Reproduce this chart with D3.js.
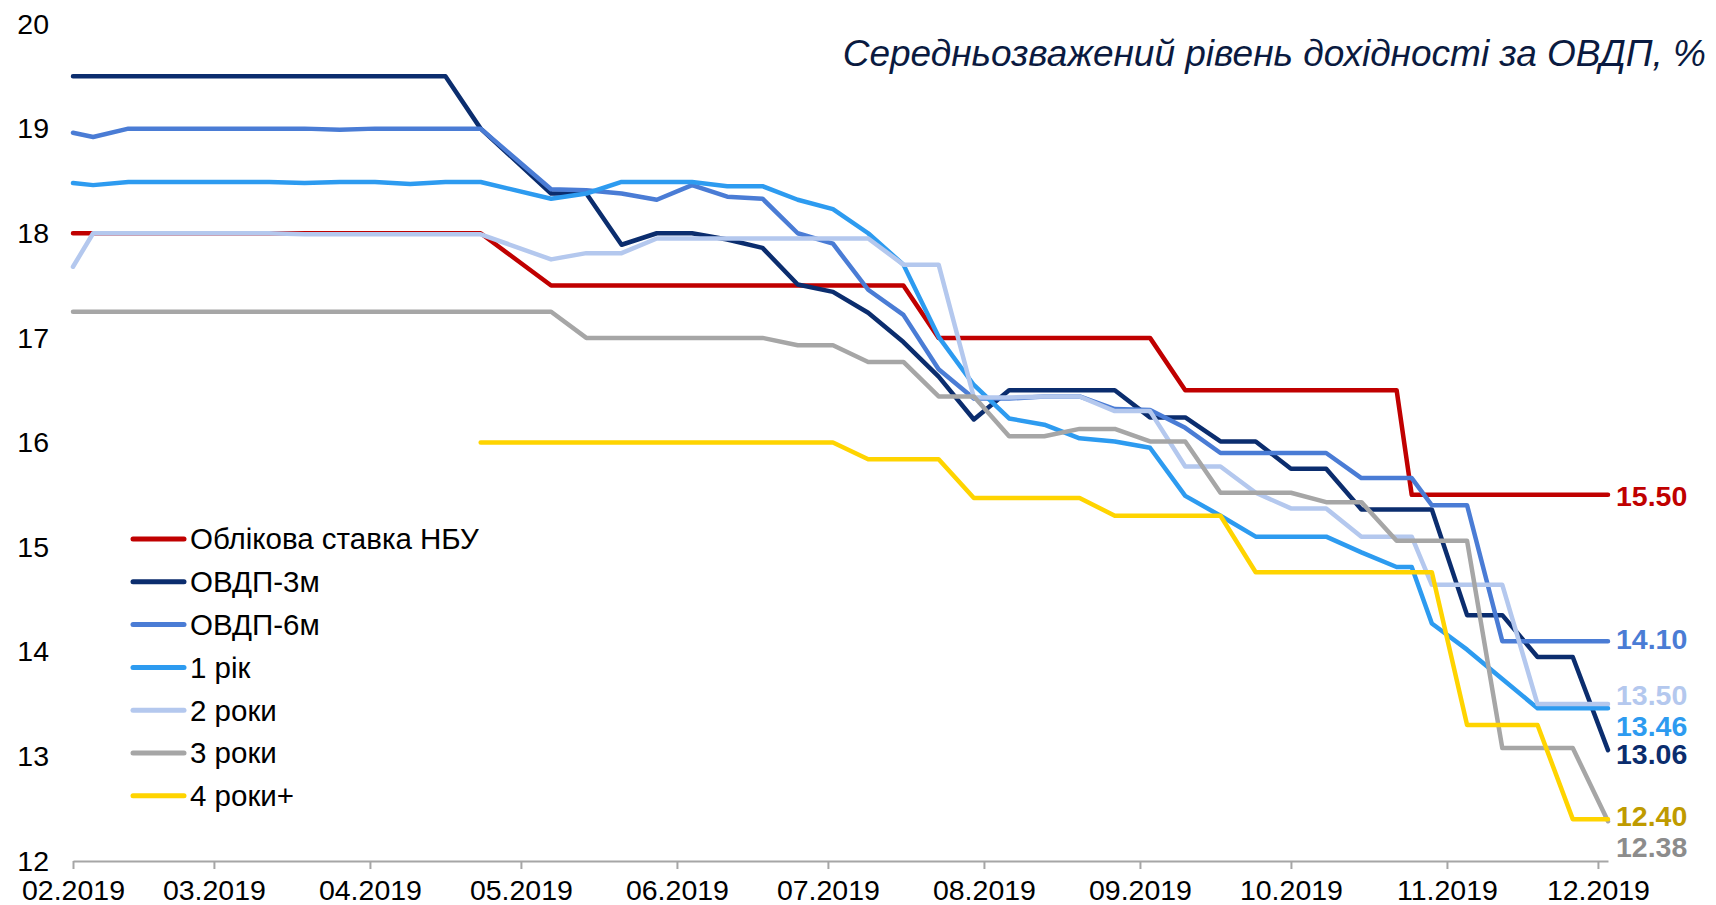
<!doctype html>
<html lang="uk">
  <head>
    <meta charset="utf-8">
    <title>Середньозважений рівень дохідності за ОВДП</title>
    <script src="https://d3js.org/d3.v7.min.js"></script>
    <style>
      body { margin: 0; background: #fff; }
      svg { display: block; font-family: "Liberation Sans", Arial, sans-serif; }
      .axis text { font-size: 28.5px; fill: #000; }
      .legend text { font-size: 29.5px; fill: #000; }
      .endlabel { font-family: "Liberation Sans", Arial, sans-serif; font-size: 28.5px; font-weight: bold; }
    </style>
  </head>
  <body>
    <svg width="1716" height="905"></svg>
<script>
// auction dates (weekly, plus the NBU decision on 25.10)
var dates = ["2019-02-01","2019-02-05","2019-02-12","2019-02-19","2019-02-26","2019-03-05","2019-03-12","2019-03-19","2019-03-26",
  "2019-04-02","2019-04-09","2019-04-16","2019-04-23","2019-05-07","2019-05-14","2019-05-21","2019-05-28","2019-06-04","2019-06-11",
  "2019-06-18","2019-06-25","2019-07-02","2019-07-09","2019-07-16","2019-07-23","2019-07-30","2019-08-06","2019-08-13","2019-08-20",
  "2019-08-27","2019-09-03","2019-09-10","2019-09-17","2019-09-24","2019-10-01","2019-10-08","2019-10-15","2019-10-22","2019-10-25",
  "2019-10-29","2019-11-05","2019-11-12","2019-11-19","2019-11-26","2019-12-03"];

var keyRate = [18,18,18,18,18,18,18,18,18,18,18,18,18,
  17.5,17.5,17.5,17.5,17.5,17.5,17.5,17.5,17.5,17.5,17.5,
  17,17,17,17,17,17,17,
  16.5,16.5,16.5,16.5,16.5,16.5,16.5,
  15.5,15.5,15.5,15.5,15.5,15.5,15.5];
var ovdp3m = [19.5,19.5,19.5,19.5,19.5,19.5,19.5,19.5,19.5,19.5,19.5,19.5,19.0,
  18.38,18.38,17.89,18.0,18.0,17.94,17.86,17.51,17.44,17.24,16.96,16.63,16.22,
  16.5,16.5,16.5,16.5,16.24,16.24,16.01,16.01,15.75,15.75,15.36,15.36,15.36,15.36,
  14.35,14.35,13.95,13.95,13.06];
var ovdp6m = [18.96,18.92,19.0,19.0,19.0,19.0,19.0,19.0,18.99,19.0,19.0,19.0,19.0,
  18.42,18.41,18.38,18.32,18.46,18.35,18.33,18.0,17.9,17.46,17.22,16.7,16.42,
  16.42,16.44,16.44,16.32,16.31,16.14,15.9,15.9,15.9,15.9,15.66,15.66,15.66,15.4,
  15.4,14.1,14.1,14.1,14.1];
var ovdp1y = [18.48,18.46,18.49,18.49,18.49,18.49,18.49,18.48,18.49,18.49,18.47,18.49,18.49,
  18.33,18.38,18.49,18.49,18.49,18.45,18.45,18.32,18.23,18.0,17.7,17.01,16.55,
  16.23,16.17,16.04,16.01,15.95,15.49,15.3,15.1,15.1,15.1,14.95,14.81,14.81,14.27,
  14.02,13.74,13.46,13.46,13.46];
var ovdp2y = [17.68,18.0,18.0,18.0,18.0,18.0,18.0,17.99,17.99,17.99,17.99,17.99,17.99,
  17.75,17.81,17.81,17.95,17.95,17.95,17.95,17.95,17.95,17.95,17.7,17.7,16.43,
  16.43,16.44,16.44,16.3,16.3,15.77,15.77,15.52,15.37,15.37,15.1,15.1,15.1,14.64,
  14.64,14.64,13.5,13.5,13.5];
var ovdp3y = [17.25,17.25,17.25,17.25,17.25,17.25,17.25,17.25,17.25,17.25,17.25,17.25,17.25,
  17.25,17.0,17.0,17.0,17.0,17.0,17.0,16.93,16.93,16.77,16.77,16.44,16.44,
  16.06,16.06,16.13,16.13,16.01,16.01,15.52,15.52,15.52,15.43,15.43,15.06,15.06,15.06,
  15.06,13.08,13.08,13.08,12.38];
var ovdp4y = [null,null,null,null,null,null,null,null,null,null,null,null,16.0,
  16.0,16.0,16.0,16.0,16.0,16.0,16.0,16.0,16.0,15.84,15.84,15.84,15.47,
  15.47,15.47,15.47,15.3,15.3,15.3,15.3,14.76,14.76,14.76,14.76,14.76,14.76,14.76,
  13.3,13.3,13.3,12.4,12.4];

var seriesNames = ["Облікова ставка НБУ", "ОВДП-3м", "ОВДП-6м", "1 рік", "2 роки", "3 роки", "4 роки+"];
var seriesValues = [keyRate, ovdp3m, ovdp6m, ovdp1y, ovdp2y, ovdp3y, ovdp4y];
var lineColors = ["#C00000", "#0B2D6E", "#4A7CD5", "#2D9BF0", "#B4C8EE", "#A6A6A6", "#FFD400"];
var labelColors = ["#C00000", "#0B2D6E", "#4A7CD5", "#2D9BF0", "#B4C8EE", "#8C8C8C", "#BF9B00"];
var labelShift = [1, 4, -2, 18, -9, 26, -3];   // px nudges so the end labels don't collide

var parse = d3.timeParse("%Y-%m-%d");
var days = dates.map(parse);

var svg = d3.select("svg");

var x = d3.scaleTime()
    .domain([days[0], days[days.length - 1]])
    .range([73, 1608]);
var y = d3.scaleLinear()
    .domain([12, 20])
    .range([861, 24]);

// x axis
var months = d3.timeMonth.range(days[0], d3.timeDay.offset(days[days.length - 1], -1));
var xAxis = svg.append("g")
    .attr("class", "axis")
    .attr("transform", "translate(0,861)")
    .call(d3.axisBottom(x).tickValues(months).tickSizeInner(8).tickSizeOuter(0)
          .tickFormat(d3.timeFormat("%m.%Y")));
xAxis.select(".domain").attr("stroke", "#A6A6A6").attr("stroke-width", 2);
xAxis.selectAll(".tick line").attr("stroke", "#A6A6A6").attr("stroke-width", 2);
xAxis.selectAll(".tick text").attr("y", 39).attr("dy", 0);

// y axis labels only
var yAxis = svg.append("g")
    .attr("class", "axis")
    .attr("transform", "translate(49,0)")
    .call(d3.axisLeft(y).ticks(8).tickSize(0).tickPadding(0));
yAxis.select(".domain").remove();

// lines
var line = d3.line()
    .defined(function(d) { return d.v != null; })
    .x(function(d) { return x(d.t); })
    .y(function(d) { return y(d.v); });

seriesValues.forEach(function(vals, i) {
    var pts = vals.map(function(v, j) { return {t: days[j], v: v}; });
    svg.append("path")
        .datum(pts)
        .attr("fill", "none")
        .attr("stroke", lineColors[i])
        .attr("stroke-width", 4.5)
        .attr("stroke-linejoin", "round")
        .attr("stroke-linecap", "round")
        .attr("d", line);
});

// end labels
seriesValues.forEach(function(vals, i) {
    var last = vals[vals.length - 1];
    svg.append("text")
        .attr("class", "endlabel")
        .attr("x", 1616)
        .attr("y", y(last) + labelShift[i])
        .attr("dy", "0.35em")
        .attr("fill", labelColors[i])
        .text(d3.format(".2f")(last));
});

// legend
var legend = svg.append("g").attr("class", "legend");
seriesNames.forEach(function(name, i) {
    var ly = 539 + i * 42.8;
    legend.append("line")
        .attr("x1", 133).attr("x2", 184)
        .attr("y1", ly).attr("y2", ly)
        .attr("stroke", lineColors[i])
        .attr("stroke-width", 5)
        .attr("stroke-linecap", "round");
    legend.append("text")
        .attr("x", 190)
        .attr("y", ly)
        .attr("dy", "0.35em")
        .text(name);
});

// title
svg.append("text")
    .attr("x", 1706)
    .attr("y", 66)
    .attr("text-anchor", "end")
    .style("font-size", "37px")
    .style("font-style", "italic")
    .attr("fill", "#0A1A40")
    .text("Середньозважений рівень дохідності за ОВДП, %");
</script>
  </body>
</html>
